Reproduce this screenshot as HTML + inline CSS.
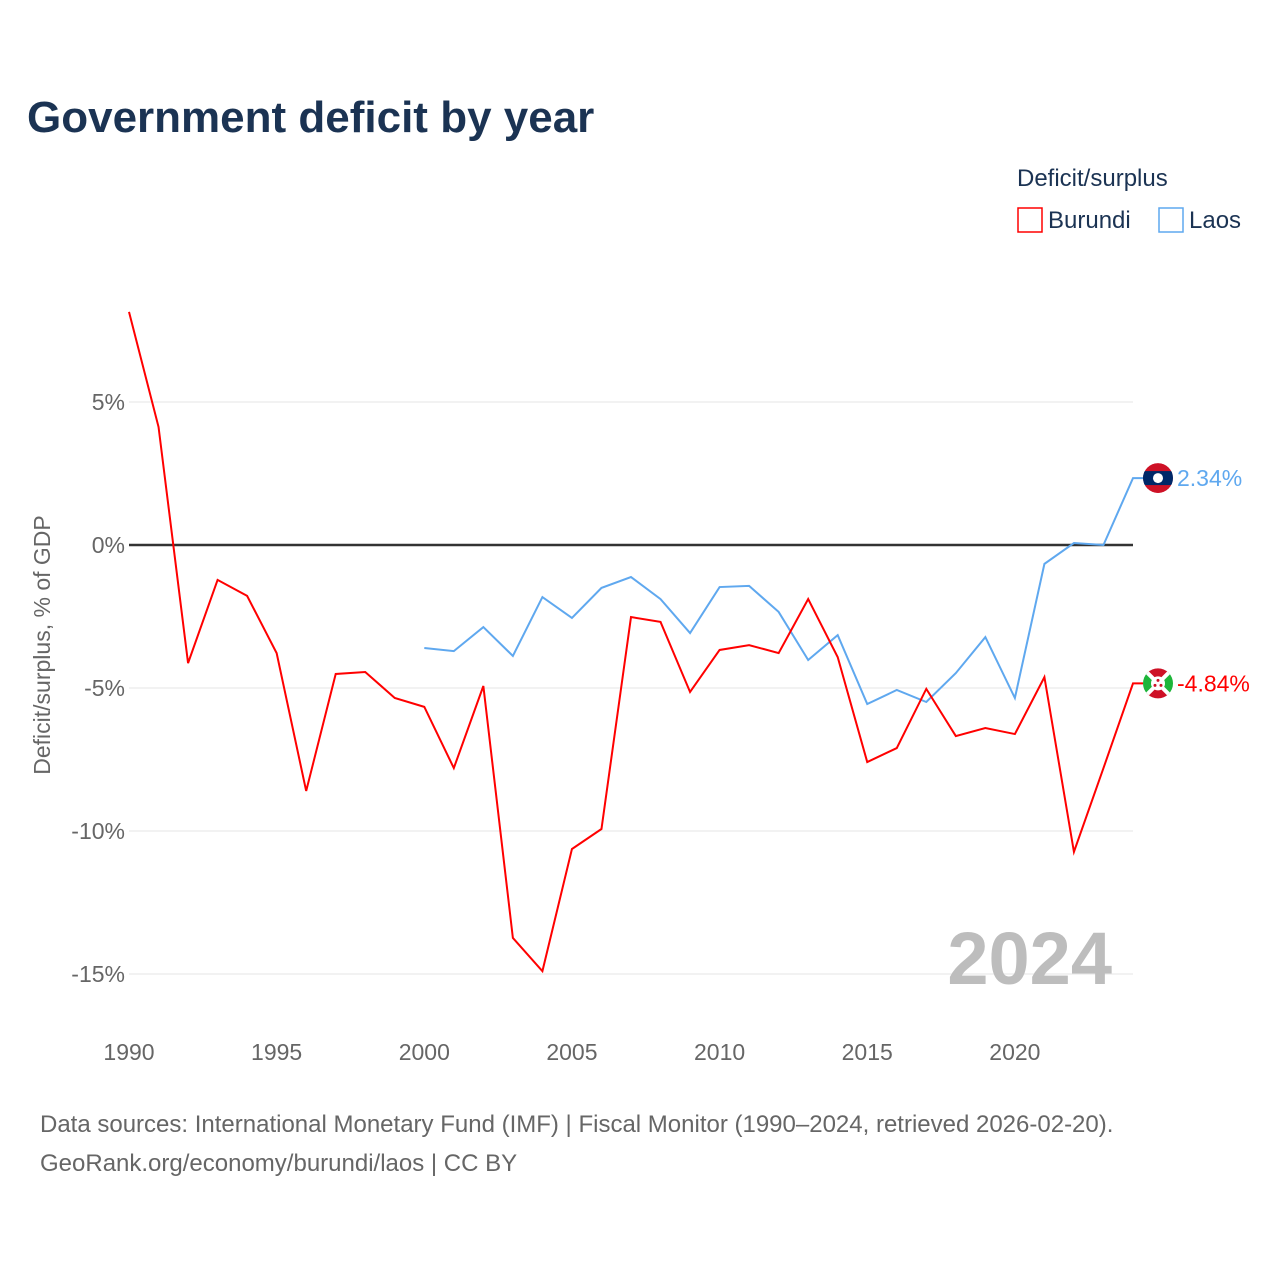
<!DOCTYPE html>
<html><head><meta charset="utf-8">
<style>
body{margin:0;background:#fff;font-family:"Liberation Sans",sans-serif}
svg text{font-family:"Liberation Sans",sans-serif}
</style></head><body>
<svg width="1280" height="1280" viewBox="0 0 1280 1280" xmlns="http://www.w3.org/2000/svg">
<defs>
<clipPath id="clipL"><circle cx="1158" cy="478" r="15"/></clipPath>
<clipPath id="clipB"><circle cx="1158" cy="683.4" r="15"/></clipPath>
</defs>
<rect width="1280" height="1280" fill="#fff"/>
<text x="27" y="132" font-size="44" font-weight="bold" fill="#1b3353">Government deficit by year</text>
<text x="1017" y="186" font-size="24" fill="#1b3353">Deficit/surplus</text>
<g><rect x="1018" y="208" width="24" height="24" fill="none" stroke="#f00" stroke-width="1.5"/><text x="1048" y="228" font-size="24" fill="#1b3353">Burundi</text></g>
<g><rect x="1159" y="208" width="24" height="24" fill="none" stroke="#5fa8ef" stroke-width="1.5"/><text x="1189" y="228" font-size="24" fill="#1b3353">Laos</text></g>
<g id="grid"></g>
<text x="1112" y="984" font-size="74" font-weight="bold" fill="#bdbdbd" text-anchor="end">2024</text>
<g id="plot"></g>
<text transform="translate(50,645) rotate(-90)" font-size="23" fill="#666" text-anchor="middle">Deficit/surplus, % of GDP</text>
<text x="40" y="1132" font-size="24" fill="#666">Data sources: International Monetary Fund (IMF) | Fiscal Monitor (1990–2024, retrieved 2026-02-20).</text>
<text x="40" y="1171" font-size="24" fill="#666">GeoRank.org/economy/burundi/laos | CC BY</text>
</svg>
<script>
const yTicks=[5,0,-5,-10,-15];
const yTickLabels=["5%","0%","-5%","-10%","-15%"];
const xTicks=[1990,1995,2000,2005,2010,2015,2020];
const burundiYears=[1990,1991,1992,1993,1994,1995,1996,1997,1998,1999,2000,2001,2002,2003,2004,2005,2006,2007,2008,2009,2010,2011,2012,2013,2014,2015,2016,2017,2018,2019,2020,2021,2022,2023,2024];
const burundiValues=[8.15,4.13,-4.13,-1.22,-1.78,-3.78,-8.6,-4.51,-4.44,-5.35,-5.66,-7.8,-4.93,-13.74,-14.9,-10.63,-9.93,-2.52,-2.69,-5.14,-3.67,-3.5,-3.78,-1.89,-3.92,-7.59,-7.1,-5.03,-6.68,-6.4,-6.61,-4.62,-10.73,-7.8,-4.84];
const laosYears=[2000,2001,2002,2003,2004,2005,2006,2007,2008,2009,2010,2011,2012,2013,2014,2015,2016,2017,2018,2019,2020,2021,2022,2023,2024];
const laosValues=[-3.6,-3.71,-2.87,-3.88,-1.82,-2.55,-1.5,-1.12,-1.89,-3.08,-1.47,-1.43,-2.34,-4.02,-3.15,-5.56,-5.07,-5.49,-4.48,-3.22,-5.35,-0.66,0.07,0.0,2.34];
const NS="http://www.w3.org/2000/svg";
const X=y=>129+(y-1990)*(1133-129)/34;
const Y=v=>545-v*28.6;
function mk(t,a,p){const e=document.createElementNS(NS,t);for(const k in a)e.setAttribute(k,a[k]);p.appendChild(e);return e;}
const grid=document.getElementById('grid'),plot=document.getElementById('plot');
yTicks.forEach((v,i)=>{
 if(v!==0){const l=mk('line',{x1:129,x2:1133,y1:Y(v),y2:Y(v),stroke:'#e6e6e6','stroke-width':1},grid);
 
 }
 const t=mk('text',{x:125,y:Y(v)+8,'font-size':23,fill:'#666','text-anchor':'end'},grid);t.textContent=yTickLabels[i];
 
 
});
xTicks.forEach(y=>{const t=mk('text',{x:X(y),y:1060,'font-size':23,fill:'#666','text-anchor':'middle'},grid);t.textContent=y;
 
 });
const z=mk('line',{x1:129,x2:1133,y1:Y(0),y2:Y(0),stroke:'#333','stroke-width':2.5},plot);


function series(ys,vs,c,name){
 const pts=ys.map((y,i)=>X(y)+','+Y(vs[i]));
 const last=vs[vs.length-1];
 pts.push((X(ys[ys.length-1])+25)+','+Y(last));
 const p=mk('polyline',{points:pts.join(' '),fill:'none',stroke:c,'stroke-width':2},plot);
 
 
 const cx=X(ys[ys.length-1])+25,cy=Y(last);
 const f=mk('g',{'clip-path':name==='laos'?'url(#clipL)':'url(#clipB)'},plot);
 
 
 if(name==='laos'){mk('circle',{cx,cy,r:15,fill:'#ce1126'},f);mk('rect',{x:cx-15,y:cy-7,width:30,height:14,fill:'#002868'},f);mk('circle',{cx,cy,r:5,fill:'#fff'},f);}
 else{mk('circle',{cx,cy,r:15,fill:'#fff'},f);
  mk('path',{d:`M${cx-16},${cy-16}L${cx+16},${cy-16}L${cx},${cy}Z M${cx-16},${cy+16}L${cx+16},${cy+16}L${cx},${cy}Z`,fill:'#ce1126'},f);
  mk('path',{d:`M${cx-16},${cy-16}L${cx-16},${cy+16}L${cx},${cy}Z M${cx+16},${cy-16}L${cx+16},${cy+16}L${cx},${cy}Z`,fill:'#1eb53a'},f);
  mk('line',{x1:cx-16,y1:cy-16,x2:cx+16,y2:cy+16,stroke:'#fff','stroke-width':4},f);
  mk('line',{x1:cx+16,y1:cy-16,x2:cx-16,y2:cy+16,stroke:'#fff','stroke-width':4},f);
  mk('circle',{cx,cy,r:7,fill:'#fff'},f);
  mk('circle',{cx,cy:cy-3,r:1.5,fill:'#ce1126'},f);mk('circle',{cx:cx-3,cy:cy+2,r:1.5,fill:'#ce1126'},f);mk('circle',{cx:cx+3,cy:cy+2,r:1.5,fill:'#ce1126'},f);}
 const t=mk('text',{x:cx+19,y:cy+8,'font-size':23,fill:c},plot);t.textContent=last.toFixed(2)+'%';
 
 
}
series(laosYears,laosValues,'#5fa8ef','laos');
series(burundiYears,burundiValues,'#f00','burundi');
</script>
</body></html>
